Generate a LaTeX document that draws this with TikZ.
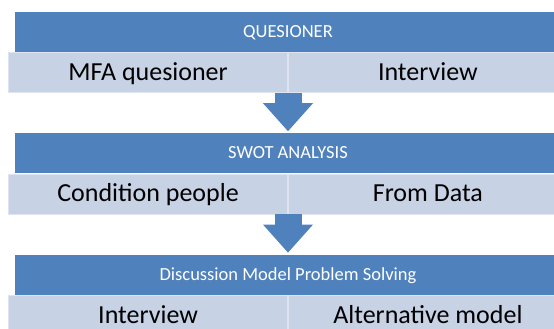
\documentclass[tikz,border=0pt]{standalone}
\usepackage{fontspec}
\setmainfont{Carlito}
\usepackage{tikz}
\usetikzlibrary{arrows.meta,positioning}
\definecolor{headblue}{RGB}{79,129,189}
\definecolor{cellblue}{RGB}{199,210,229}
\definecolor{celledge}{RGB}{222,228,240}

\begin{document}
\begin{tikzpicture}
[x=1pt, y=1pt, node distance=0pt,
head/.style={fill=headblue, text=white, minimum width=546pt, minimum height=40pt,
  inner sep=0pt, font=\fontsize{18.5}{20}\selectfont, text height=11pt, text depth=0pt},
cell/.style={fill=cellblue, draw=celledge, line width=0.8pt, minimum width=279pt,
  minimum height=40pt, inner sep=0pt, font=\fontsize{26}{29}\selectfont,
  text height=15.5pt, text depth=0pt},
bigarrow/.style={draw=headblue, line width=27pt, shorten >=2pt,
  -{Triangle[width=50pt, length=28pt, line width=0pt]}}
]
  \useasboundingbox (0,0) rectangle (554,-329);
  \clip (0,0) rectangle (554,-329);

  \node[head]        (ques)  at (288,-32)            {QUESIONER};
  \node[cell]        (mfa)   [below left=of ques.south]  {MFA quesioner};
  \node[cell]        (intv)  [below right=of ques.south] {Interview};
  \node[head]        (swot)  [below=81pt of ques]    {SWOT ANALYSIS};
  \node[cell]        (cond)  [below left=of swot.south]  {Condition people};
  \node[cell]        (data)  [below right=of swot.south] {From Data};
  \node[head]        (disc)  [below=81pt of swot]    {Discussion Model Problem Solving};
  \node[cell]        (intv2) [below left=of disc.south]  {Interview};
  \node[cell]        (alt)   [below right=of disc.south] {Alternative model};

  \path
	(mfa.south east)  edge [bigarrow] (swot.north)
	(cond.south east) edge [bigarrow] (disc.north)
    ;
\end{tikzpicture}
\end{document}
